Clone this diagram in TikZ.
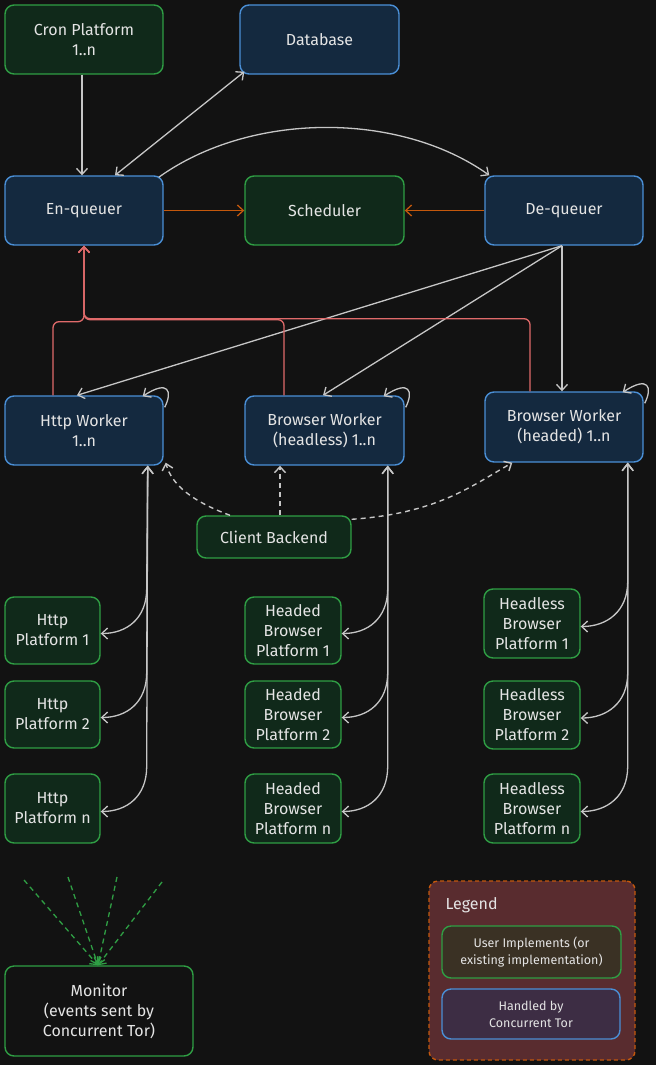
\documentclass[tikz,border=0pt]{standalone}
\usepackage{fontspec}
\setmainfont{Fira Sans}
\usetikzlibrary{arrows.meta,calc}
\definecolor{bg}{HTML}{121212}
\definecolor{bborder}{HTML}{4A8FD6}
\definecolor{bfill}{HTML}{14293F}
\definecolor{gborder}{HTML}{2F9E44}
\definecolor{gfill}{HTML}{10291A}
\definecolor{txt}{HTML}{E4E4E4}
\definecolor{agray}{HTML}{C6C6C6}
\definecolor{aorange}{HTML}{C4580C}
\definecolor{ared}{HTML}{E06A6A}
\definecolor{lfill}{HTML}{592C2F}
\definecolor{l1fill}{HTML}{3A3124}
\definecolor{l2fill}{HTML}{3D2D44}
\begin{document}
\begin{tikzpicture}[x=1pt,y=-1pt,
  every node/.style={text=txt,align=center,font=\fontsize{16}{20}\selectfont},
  box/.style={rounded corners=9pt,line width=1.4pt,inner sep=0pt},
  bbox/.style={box,draw=bborder,fill=bfill},
  gbox/.style={box,draw=gborder,fill=gfill},
  arr/.style={draw=agray,line width=1.3pt,-{Straight Barb[length=6pt,width=11pt]}},
  darr/.style={draw=agray,line width=1.3pt,{Straight Barb[length=6pt,width=11pt]}-{Straight Barb[length=6pt,width=11pt]}},
  oarr/.style={draw=aorange,line width=1.3pt,-{Straight Barb[length=6pt,width=11pt]}},
  rarr/.style={draw=ared,line width=1.3pt,rounded corners=6pt,-{Straight Barb[length=6pt,width=11pt]}},
  carr/.style={draw=agray,line width=1.4pt,dash pattern=on 5pt off 4pt,-{Straight Barb[length=6pt,width=11pt]}},
  marr/.style={draw=gborder,line width=1.3pt,dash pattern=on 5pt off 4pt,-{Straight Barb[length=6pt,width=11pt]}},
  parr/.style={draw=agray,line width=1.3pt,{Straight Barb[length=7pt,width=11pt]}-{Straight Barb[length=6pt,width=11pt]}},
]
\useasboundingbox (0,0) rectangle (656,1065);
\fill[bg] (0,0) rectangle (656,1065);

% nodes
\node[gbox,minimum width=158pt,minimum height=69pt] (cron) at (84,39.5) {Cron Platform\\1..n};
\node[bbox,minimum width=159pt,minimum height=69pt] (db) at (319.5,39.5) {Database};
\node[bbox,minimum width=158pt,minimum height=69pt] (enq) at (84,210.5) {En-queuer};
\node[gbox,minimum width=159pt,minimum height=69pt] (sched) at (324.5,210.5) {Scheduler};
\node[bbox,minimum width=158pt,minimum height=69pt] (deq) at (564,210.5) {De-queuer};
\node[bbox,minimum width=158pt,minimum height=69pt] (http) at (84,430.5) {Http Worker\\1..n};
\node[bbox,minimum width=159pt,minimum height=69pt] (bwhl) at (324.5,430.5) {Browser Worker\\(headless) 1..n};
\node[bbox,minimum width=158pt,minimum height=70pt] (bwhd) at (564,427) {Browser Worker\\(headed) 1..n};
\node[gbox,minimum width=154pt,minimum height=42pt] (client) at (274,537) {Client Backend};

\node[gbox,minimum width=95pt,minimum height=67pt] (hp1) at (52.5,630.5) {Http\\Platform 1};
\node[gbox,minimum width=95pt,minimum height=67pt] (hp2) at (52.5,714.5) {Http\\Platform 2};
\node[gbox,minimum width=95pt,minimum height=69pt] (hpn) at (52.5,808.5) {Http\\Platform n};

\node[gbox,minimum width=96pt,minimum height=67pt] (hdp1) at (293,630.5) {Headed\\Browser\\Platform 1};
\node[gbox,minimum width=96pt,minimum height=67pt] (hdp2) at (293,714.5) {Headed\\Browser\\Platform 2};
\node[gbox,minimum width=96pt,minimum height=69pt] (hdpn) at (293,808.5) {Headed\\Browser\\Platform n};

\node[gbox,minimum width=96pt,minimum height=69pt] (hlp1) at (532,623.5) {Headless\\Browser\\Platform 1};
\node[gbox,minimum width=96pt,minimum height=68pt] (hlp2) at (532,715) {Headless\\Browser\\Platform 2};
\node[gbox,minimum width=96pt,minimum height=69pt] (hlpn) at (532,808.5) {Headless\\Browser\\Platform n};

\node[box,draw=gborder,fill=bg,minimum width=188pt,minimum height=90pt] (monitor) at (99,1011) {Monitor\\(events sent by\\Concurrent Tor)};

% legend
\node[box,draw=aorange,fill=lfill,dash pattern=on 4pt off 3pt,minimum width=206pt,minimum height=179pt] (legend) at (532,970.5) {};
\node[anchor=west] (legtitle) at (442,905) {Legend};
\node[box,draw=gborder,fill=l1fill,minimum width=179pt,minimum height=52pt,font=\fontsize{12.5}{17}\selectfont] (leg1) at (531.5,952) {User Implements (or\\existing implementation)};
\node[box,draw=bborder,fill=l2fill,minimum width=178pt,minimum height=50pt,font=\fontsize{12.5}{17}\selectfont] (leg2) at (531,1014) {Handled by\\Concurrent Tor};

% connectors
\draw[arr] ([xshift=-2pt]cron.south) -- ([xshift=-2pt]enq.north);
\draw[darr] ([xshift=31pt]enq.north) -- ([shift={(5,-3)}]db.south west);
\draw[arr] ([shift={(-5,2)}]enq.north east) .. controls +(92,-66) and +(-90,-64) .. ([xshift=5pt]deq.north west);
\draw[oarr] (enq.east) -- (sched.west);
\draw[oarr] (deq.west) -- (sched.east);
\draw[arr] ([xshift=-2pt]deq.south) -- ([xshift=-7pt]http.north);
\draw[arr] ([xshift=-2pt]deq.south) -- ([xshift=-1.5pt]bwhl.north);
\draw[arr] ([xshift=-2pt]deq.south) -- ([xshift=-2pt]bwhd.north);

% self loops
\foreach \w in {http,bwhl,bwhd}{
  \draw[arr] ([shift={(1,12)}]\w.north east) .. controls +(8,-16) and +(26,-17) .. ([shift={(-21,1)}]\w.north east);
}

% red returns
\draw[rarr] ([xshift=-31pt]http.north) |- ([yshift=-76pt]enq.south) -- (enq.south);
\draw[rarr] ([xshift=-40.5pt]bwhl.north) |- ([yshift=-74pt]enq.south) -- (enq.south);
\draw[rarr] ([xshift=-34pt]bwhd.north) |- ([yshift=-73pt]enq.south) -- (enq.south);

% client backend
\draw[carr] ([xshift=-44pt]client.north) .. controls +(-38,-14) and +(6,22) .. ([shift={(2,-3)}]http.south east);
\draw[carr] ([xshift=6pt]client.north) -- ([xshift=-44.5pt]bwhl.south);
\draw[carr] ([shift={(0,4)}]client.north east) .. controls +(85,-6) and +(-42,24) .. ([shift={(28,0)}]bwhd.south west);

% workers to platforms
\foreach \p in {hp1,hp2,hpn}{
  \draw[parr] ([xshift=-16pt]http.south east) -- ($(\p.east)+(46,-42)$) .. controls +(0,30) and +(26,0) .. ([yshift=-3pt]\p.east);
}
\foreach \p in {hdp1,hdp2,hdpn}{
  \draw[parr] ([xshift=-17pt]bwhl.south east) -- ($(\p.east)+(46,-42)$) .. controls +(0,30) and +(26,0) .. ([yshift=-3pt]\p.east);
}
\foreach \p in {hlp1,hlp2,hlpn}{
  \draw[parr] ([xshift=-16pt]bwhd.south east) -- ($(\p.east)+(47,-42)$) .. controls +(0,30) and +(26,0) .. ([yshift=-3pt]\p.east);
}

% monitor events
\coordinate (m1) at (24,880);
\coordinate (m2) at (68,877);
\coordinate (m3) at (117,877);
\coordinate (m4) at (162,882);
\foreach \m in {m1,m2,m3,m4}{
  \draw[marr] (\m) -- ([xshift=-1pt]monitor.north);
}
\end{tikzpicture}
\end{document}
